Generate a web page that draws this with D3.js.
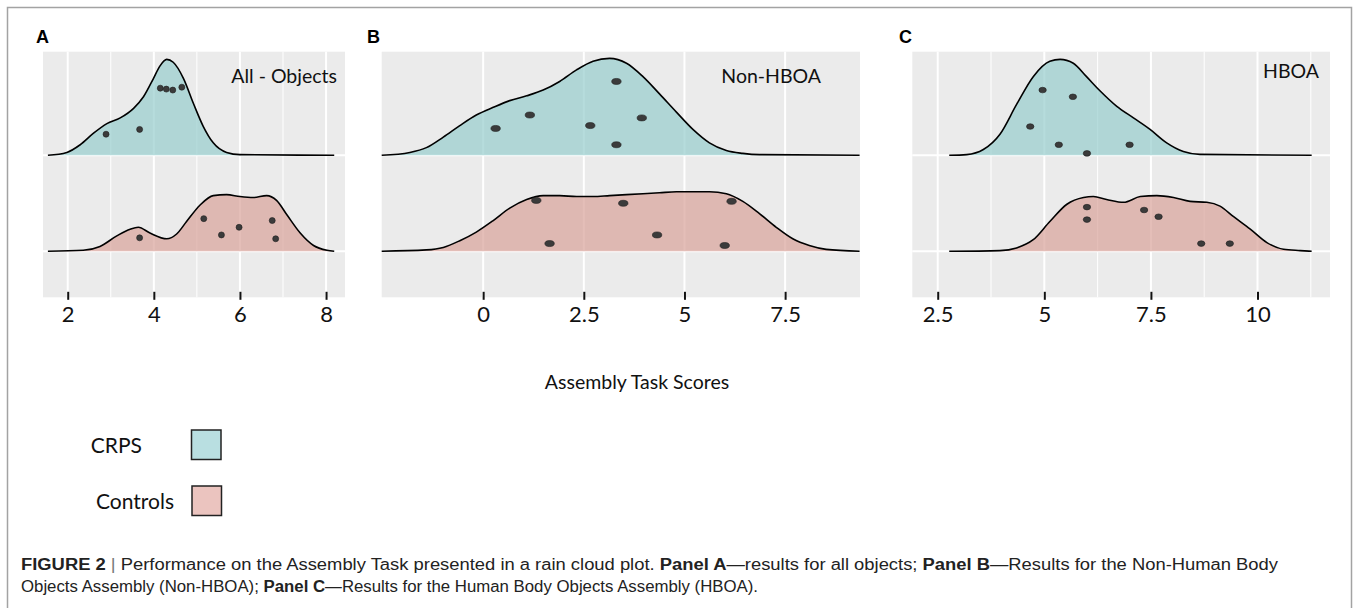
<!DOCTYPE html>
<html lang="en">
<head>
<meta charset="UTF-8">
<title>Assembly Task rain cloud plot</title>
<script src="https://cdn.jsdelivr.net/npm/d3@7"></script>
<style>
  * { margin: 0; padding: 0; }
  body { background: #fff; }
  svg { display: block; }
</style>
</head>
<body>
<svg></svg>
<script>
// ---- data ----
const groups = ['CRPS', 'Controls']
const panelLetters = ['A', 'B', 'C']
const panelTitles = ['All - Objects', 'Non-HBOA', 'HBOA']

const ticksA = [2, 4, 6, 8]
const ticksB = [0, 2.5, 5, 7.5]
const ticksC = [2.5, 5, 7.5, 10]
const minorA = [3, 5, 7]
const minorB = []
const minorC = [3.75, 6.25, 8.75, 11.25]

// scaled density (score, height in units of one ridge spacing)
const densA_crps = [[1.54, 0], [1.98, 0.03], [2.29, 0.11], [2.6, 0.23], [2.91, 0.33], [3.22, 0.39], [3.53, 0.49], [3.76, 0.61], [3.99, 0.8], [4.14, 0.93], [4.3, 1.0], [4.45, 0.97], [4.69, 0.8], [4.92, 0.54], [5.15, 0.3], [5.38, 0.13], [5.69, 0.03], [6.0, 0.007], [8.19, 0]]
const densA_ctrl = [[1.54, 0], [2.36, 0.01], [2.75, 0.05], [3.14, 0.16], [3.45, 0.23], [3.64, 0.25], [3.91, 0.19], [4.3, 0.13], [4.53, 0.18], [4.76, 0.31], [5.07, 0.48], [5.38, 0.58], [5.69, 0.59], [6.0, 0.57], [6.31, 0.56], [6.62, 0.58], [6.85, 0.53], [7.09, 0.38], [7.4, 0.19], [7.71, 0.06], [8.02, 0.01], [8.19, 0]]
const densB_crps = [[-2.52, 0], [-1.82, 0.03], [-1.41, 0.08], [-0.99, 0.19], [-0.58, 0.31], [-0.17, 0.42], [0.25, 0.5], [0.66, 0.57], [1.08, 0.62], [1.49, 0.68], [1.9, 0.77], [2.32, 0.89], [2.73, 0.98], [3.14, 1.01], [3.56, 0.96], [3.97, 0.82], [4.38, 0.64], [4.8, 0.45], [5.21, 0.27], [5.62, 0.13], [6.04, 0.05], [6.45, 0.02], [6.87, 0.007], [9.35, 0]]
const densB_ctrl = [[-2.52, 0], [-1.41, 0.014], [-0.99, 0.04], [-0.58, 0.11], [-0.17, 0.2], [0.25, 0.32], [0.66, 0.45], [1.08, 0.54], [1.49, 0.58], [1.9, 0.58], [2.32, 0.57], [2.73, 0.57], [3.14, 0.58], [3.56, 0.59], [3.97, 0.6], [4.38, 0.61], [4.8, 0.62], [5.21, 0.62], [5.62, 0.62], [6.04, 0.6], [6.45, 0.52], [6.87, 0.39], [7.28, 0.25], [7.69, 0.13], [8.1, 0.06], [8.52, 0.02], [9.35, 0]]
const densC_crps = [[2.77, 0], [3.18, 0.007], [3.57, 0.06], [3.96, 0.22], [4.35, 0.53], [4.74, 0.82], [5.13, 0.98], [5.37, 1.0], [5.68, 0.96], [5.99, 0.82], [6.31, 0.67], [6.7, 0.51], [7.09, 0.39], [7.48, 0.27], [7.87, 0.13], [8.26, 0.04], [8.65, 0.01], [11.27, 0]]
const densC_ctrl = [[2.77, 0], [3.96, 0.007], [4.35, 0.035], [4.74, 0.12], [5.13, 0.31], [5.53, 0.49], [5.92, 0.56], [6.15, 0.57], [6.46, 0.54], [6.86, 0.51], [7.25, 0.57], [7.64, 0.58], [8.03, 0.56], [8.42, 0.52], [8.81, 0.51], [9.12, 0.47], [9.44, 0.36], [9.83, 0.23], [10.22, 0.09], [10.61, 0.02], [11.0, 0.007], [11.27, 0]]

// raw scores (score, vertical jitter in ridge units)
const ptsA_crps = [[2.89, 0.22], [3.67, 0.27], [4.15, 0.7], [4.29, 0.69], [4.44, 0.68], [4.65, 0.71]]
const ptsA_ctrl = [[3.67, 0.14], [5.16, 0.34], [5.57, 0.17], [5.98, 0.25], [6.75, 0.32], [6.83, 0.13]]
const ptsB_crps = [[0.31, 0.28], [1.16, 0.42], [2.66, 0.31], [3.31, 0.77], [3.31, 0.11], [3.94, 0.39]]
const ptsB_ctrl = [[1.32, 0.53], [1.65, 0.08], [3.48, 0.5], [4.32, 0.17], [6.0, 0.06], [6.17, 0.52]]
const ptsC_crps = [[4.96, 0.68], [5.67, 0.61], [4.67, 0.3], [5.34, 0.11], [6.0, 0.02], [7.0, 0.11]]
const ptsC_ctrl = [[6.0, 0.46], [6.0, 0.33], [7.34, 0.43], [7.68, 0.36], [8.68, 0.08], [9.35, 0.08]]

// ---- layout / style ----
const W = 1356, H = 608
const fills = ['#97cdcd', '#d8a29a']
const legendFills = ['#b9dfe1', '#ebc4bf']
const tickFont = 'Lato, "Open Sans", sans-serif'

const panels = [
  { left: 43, right: 345, domain: [1.426, 8.44], ticks: ticksA, minor: minorA,
    dens: [densA_crps, densA_ctrl], pts: [ptsA_crps, ptsA_ctrl], rx: 3, ry: 3, letterX: 36, titleX: 337, titleY: 83 },
  { left: 381.7, right: 860, domain: [-2.52, 9.36], ticks: ticksB, minor: minorB,
    dens: [densB_crps, densB_ctrl], pts: [ptsB_crps, ptsB_ctrl], rx: 4.7, ry: 3, letterX: 367, titleX: 821, titleY: 83 },
  { left: 912.3, right: 1330, domain: [1.904, 11.7], ticks: ticksC, minor: minorC,
    dens: [densC_crps, densC_ctrl], pts: [ptsC_crps, ptsC_ctrl], rx: 3.7, ry: 2.8, letterX: 899, titleX: 1319, titleY: 78 }
]

const plotTop = 51.7, plotBottom = 297.3
// ridge positions: CRPS = 2, Controls = 1
const y = d3.scaleLinear().domain([0.52, 3.08]).range([plotBottom, plotTop])
const ridgeLevel = [2, 1]

const svg = d3.select('svg').attr('width', W).attr('height', H)

// figure frame
svg.append('rect').attr('x', 7.5).attr('y', 7.5).attr('width', 1344).attr('height', 640)
  .attr('fill', 'none').attr('stroke', '#a3a3a3').attr('stroke-width', 1.5)

panels.forEach((p, i) => {
  const x = d3.scaleLinear().domain(p.domain).range([p.left, p.right])
  const g = svg.append('g')

  // panel background
  g.append('rect').attr('x', p.left).attr('y', plotTop)
    .attr('width', p.right - p.left).attr('height', plotBottom - plotTop).attr('fill', '#ebebeb')

  // grid
  g.selectAll(null).data(p.minor.filter(v => v <= p.domain[1])).join('line')
    .attr('x1', d => x(d)).attr('x2', d => x(d)).attr('y1', plotTop).attr('y2', plotBottom)
    .attr('stroke', '#fff').attr('stroke-width', 1)
  g.selectAll(null).data(p.ticks).join('line')
    .attr('x1', d => x(d)).attr('x2', d => x(d)).attr('y1', plotTop).attr('y2', plotBottom)
    .attr('stroke', '#fff').attr('stroke-width', 2)
  g.selectAll(null).data(ridgeLevel).join('line')
    .attr('x1', p.left).attr('x2', p.right).attr('y1', d => y(d)).attr('y2', d => y(d))
    .attr('stroke', '#fff').attr('stroke-width', 2)

  // ridges
  groups.forEach((grp, k) => {
    const base = ridgeLevel[k]
    const area = d3.area().curve(d3.curveMonotoneX)
      .x(d => x(d[0])).y0(y(base)).y1(d => y(base + d[1]))
    const line = d3.line().curve(d3.curveMonotoneX)
      .x(d => x(d[0])).y(d => y(base + d[1]))
    g.append('path').datum(p.dens[k]).attr('d', area)
      .attr('fill', fills[k]).attr('fill-opacity', 0.7)
    g.append('path').datum(p.dens[k]).attr('d', line)
      .attr('fill', 'none').attr('stroke', '#000').attr('stroke-width', 1.6)
    g.selectAll(null).data(p.pts[k]).join('ellipse')
      .attr('cx', d => x(d[0])).attr('cy', d => y(base + d[1]))
      .attr('rx', p.rx).attr('ry', p.ry)
      .attr('fill', '#3b3b3b').attr('stroke', '#1f1f1f').attr('stroke-width', 0.6)
  })

  // x axis (ticks and labels only)
  const ax = g.append('g').attr('transform', `translate(0,${plotBottom - 5.5})`)
    .call(d3.axisBottom(x).tickValues(p.ticks).tickFormat(d3.format('')).tickSize(8).tickPadding(6.5))
  ax.select('.domain').remove()
  ax.selectAll('.tick line').attr('stroke', '#111').attr('stroke-width', 2)
  ax.selectAll('.tick text').attr('font-family', tickFont).attr('font-size', 22).attr('fill', '#111')

  // panel letter and title
  svg.append('text').attr('x', p.letterX).attr('y', 43).text(panelLetters[i])
    .attr('font-family', '"Liberation Sans", Arial, sans-serif').attr('font-weight', 'bold')
    .attr('font-size', 18).attr('fill', '#000')
  svg.append('text').attr('x', p.titleX).attr('y', p.titleY).attr('text-anchor', 'end')
    .text(panelTitles[i]).attr('font-family', tickFont).attr('font-size', 19.5).attr('fill', '#111')
})

// shared x title
svg.append('text').attr('x', 637).attr('y', 389).attr('text-anchor', 'middle')
  .text('Assembly Task Scores').attr('font-family', tickFont).attr('font-size', 19.5).attr('fill', '#111')

// legend
const legY = [445, 501]
groups.forEach((grp, k) => {
  svg.append('text').attr('x', k === 0 ? 142 : 174).attr('y', legY[k] + 8).attr('text-anchor', 'end')
    .text(grp).attr('font-family', tickFont).attr('font-size', 21).attr('fill', '#111')
  svg.append('rect').attr('x', 191.5 + k * 0.5).attr('y', legY[k] - 15).attr('width', 29.5).attr('height', 29.5)
    .attr('fill', legendFills[k]).attr('stroke', '#222').attr('stroke-width', 1.5)
})

// caption
const capFont = '"Liberation Sans", Arial, sans-serif'
const cap1 = svg.append('text').attr('x', 21).attr('y', 570).attr('font-family', capFont)
  .attr('font-size', 16).attr('fill', '#222').attr('textLength', 1257).attr('lengthAdjust', 'spacingAndGlyphs')
cap1.append('tspan').attr('font-weight', 'bold').text('FIGURE 2')
cap1.append('tspan').attr('fill', '#777').text(' | ')
cap1.append('tspan').text('Performance on the Assembly Task presented in a rain cloud plot. ')
cap1.append('tspan').attr('font-weight', 'bold').text('Panel A')
cap1.append('tspan').text('\u2014results for all objects; ')
cap1.append('tspan').attr('font-weight', 'bold').text('Panel B')
cap1.append('tspan').text('\u2014Results for the Non-Human Body')

const cap2 = svg.append('text').attr('x', 21).attr('y', 592).attr('font-family', capFont)
  .attr('font-size', 16).attr('fill', '#222').attr('textLength', 737).attr('lengthAdjust', 'spacingAndGlyphs')
cap2.append('tspan').text('Objects Assembly (Non-HBOA); ')
cap2.append('tspan').attr('font-weight', 'bold').text('Panel C')
cap2.append('tspan').text('\u2014Results for the Human Body Objects Assembly (HBOA).')
</script>
</body>
</html>
